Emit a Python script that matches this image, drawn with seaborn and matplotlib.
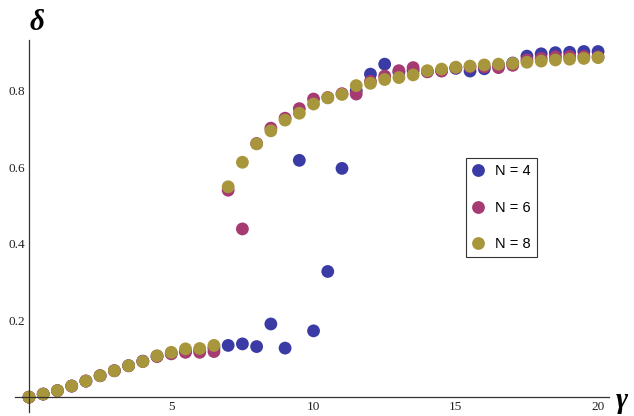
import numpy as np
import pandas as pd
import matplotlib
matplotlib.use("Agg")
import matplotlib.pyplot as plt
import seaborn as sns
from matplotlib.ticker import MultipleLocator, FixedLocator

# gamma values (x axis)
gamma = [0.0, 0.5, 1.0, 1.5, 2.0, 2.5, 3.0, 3.5, 4.0, 4.5,
         5.0, 5.5, 6.0, 6.5, 7.0, 7.5, 8.0, 8.5, 9.0, 9.5,
         10.0, 10.5, 11.0, 11.5, 12.0, 12.5, 13.0, 13.5, 14.0, 14.5,
         15.0, 15.5, 16.0, 16.5, 17.0, 17.5, 18.0, 18.5, 19.0, 19.5, 20.0]

# delta for each N
delta_n4 = [0.0, 0.008, 0.017, 0.029, 0.042, 0.056, 0.069, 0.082, 0.094, 0.107,
            0.115, 0.120, 0.122, 0.128, 0.135, 0.139, 0.132, 0.191, 0.128, 0.618,
            0.173, 0.328, 0.597, 0.800, 0.843, 0.869, 0.848, 0.852, 0.850, 0.852,
            0.858, 0.851, 0.857, 0.866, 0.872, 0.890, 0.896, 0.899, 0.900, 0.902, 0.902]
delta_n6 = [0.0, 0.008, 0.017, 0.029, 0.042, 0.056, 0.069, 0.082, 0.093, 0.106,
            0.113, 0.117, 0.117, 0.119, 0.540, 0.439, 0.662, 0.702, 0.728, 0.753,
            0.778, 0.782, 0.792, 0.791, 0.824, 0.838, 0.852, 0.860, 0.849, 0.851,
            0.860, 0.862, 0.862, 0.860, 0.866, 0.880, 0.884, 0.888, 0.889, 0.889, 0.888]
delta_n8 = [0.0, 0.008, 0.017, 0.029, 0.042, 0.056, 0.069, 0.082, 0.093, 0.108,
            0.117, 0.126, 0.127, 0.135, 0.549, 0.613, 0.661, 0.695, 0.723, 0.741,
            0.765, 0.781, 0.790, 0.813, 0.819, 0.829, 0.834, 0.841, 0.852, 0.856,
            0.861, 0.864, 0.867, 0.869, 0.871, 0.874, 0.877, 0.880, 0.882, 0.884, 0.886]

labels = ["N = 4", "N = 6", "N = 8"]
colors = ["#3b3ba6", "#a63a72", "#a8963c"]

# long-form table, blue first so olive ends up on top
frames = []
for lab, vals in zip(labels, [delta_n4, delta_n6, delta_n8]):
    frames.append(pd.DataFrame({"gamma": gamma, "delta": vals, "N": lab}))
df = pd.concat(frames, ignore_index=True)

sns.set_style("white")
plt.rcParams["text.color"] = "black"
fig = plt.figure(figsize=(6.34, 4.16), dpi=100)
ax = fig.add_axes([0.0233, 0.0103, 0.938, 0.8935])

sns.scatterplot(data=df, x="gamma", y="delta", hue="N", palette=colors,
                s=85, linewidth=0, alpha=1.0, ax=ax, legend=True)

ax.set_xlim(-0.5, 20.4)
ax.set_ylim(-0.038, 0.932)

# Mathematica-like axes crossing at the origin
ax.spines["left"].set_position(("data", 0))
ax.spines["bottom"].set_position(("data", 0))
ax.spines["right"].set_visible(False)
ax.spines["top"].set_visible(False)
for sp in ["left", "bottom"]:
    ax.spines[sp].set_color("#333333")
    ax.spines[sp].set_linewidth(0.9)

ax.xaxis.set_major_locator(FixedLocator([5, 10, 15, 20]))
ax.xaxis.set_minor_locator(MultipleLocator(1))
ax.yaxis.set_major_locator(FixedLocator([0.2, 0.4, 0.6, 0.8]))
ax.yaxis.set_minor_locator(MultipleLocator(0.05))
ax.tick_params(axis="both", which="major", direction="in", length=4, width=0.7,
               color="#555555", labelsize=9.5, pad=3)
ax.tick_params(axis="both", which="minor", direction="in", length=2.2, width=0.5,
               color="#999999")
ax.set_xticklabels(["5", "10", "15", "20"])
ax.set_yticklabels(["0.2", "0.4", "0.6", "0.8"])
for t in ax.get_xticklabels() + ax.get_yticklabels():
    t.set_family("Liberation Serif")
    t.set_color("#222222")
ax.set_xlabel("")
ax.set_ylabel("")

fig.text(37 / 634, 1 - 22 / 416, "δ", family="Liberation Serif", style="italic",
         weight="bold", fontsize=21, ha="center", va="center", color="black")
fig.text(622 / 634, 1 - 400 / 416, "γ", family="Liberation Serif", style="italic",
         weight="bold", fontsize=21, ha="center", va="center", color="black")

leg = ax.legend(loc="upper left", bbox_to_anchor=(466 / 634, 1 - 158 / 416),
                bbox_transform=fig.transFigure, frameon=True, fancybox=False,
                edgecolor="black", prop={"family": "Liberation Sans", "size": 10.5},
                labelspacing=1.55, handlelength=0.8, handletextpad=0.8,
                borderpad=0.42, borderaxespad=0, markerscale=1.0)
leg.get_frame().set_linewidth(0.8)
for t in leg.get_texts():
    t.set_color("black")

fig.savefig("out.png", dpi=100)
